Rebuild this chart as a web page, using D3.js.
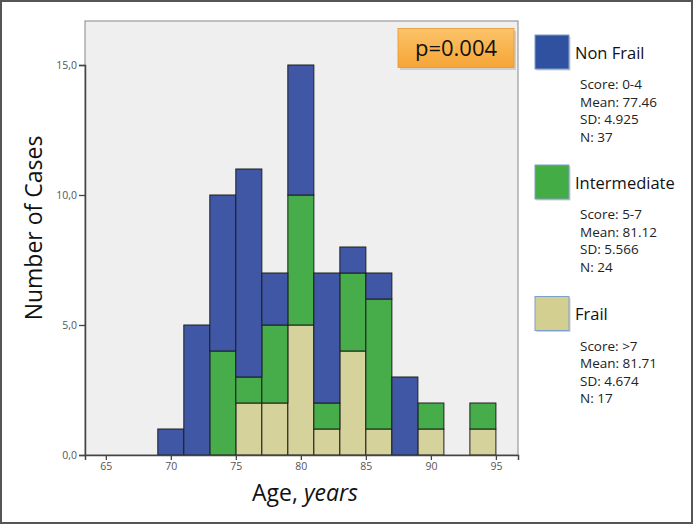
<!DOCTYPE html>
<html><head><meta charset="utf-8">
<script src="https://cdn.jsdelivr.net/npm/d3@7"></script>
<style>html,body{margin:0;padding:0;background:#fff}svg{display:block}</style>
</head><body>
<svg id="chart" width="693" height="524"></svg>
<script>
// ---- data ----
const binStarts = [69, 71, 73, 75, 77, 79, 81, 83, 85, 87, 89, 91, 93];
const binWidth = 2;
const frail        = [0, 0, 0, 2, 2, 5, 1, 4, 1, 0, 1, 0, 1];
const intermediate = [0, 0, 4, 1, 3, 5, 1, 3, 5, 0, 1, 0, 1];
const nonFrail     = [1, 5, 6, 8, 2, 5, 5, 1, 1, 3, 0, 0, 0];
const seriesKeys = ["frail", "intermediate", "nonFrail"];
const xTicks = [65, 70, 75, 80, 85, 90, 95];
const yTicks = [0, 5, 10, 15];
const legendNames = ["Non Frail", "Intermediate", "Frail"];
const legendKeys = ["nonFrail", "intermediate", "frail"];
const legendStats = [
  ["Score: 0-4", "Mean: 77.46", "SD: 4.925", "N: 37"],
  ["Score: 5-7", "Mean: 81.12", "SD: 5.566", "N: 24"],
  ["Score: >7", "Mean: 81.71", "SD: 4.674", "N: 17"]
];
const pText = "p=0.004";

const colors = {nonFrail: "#3F57A5", intermediate: "#46AD4A", frail: "#D5D29B"};
const legendColors = {nonFrail: "#2F51A0", intermediate: "#43AC44", frail: "#D3CF90"};

const rows = binStarts.map((b, i) => ({start: b, frail: frail[i], intermediate: intermediate[i], nonFrail: nonFrail[i]}));

const svg = d3.select("#chart");
const font = "'Open Sans', sans-serif";

// outer border
svg.append("rect").attr("x", 1).attr("y", 1).attr("width", 691).attr("height", 522)
  .attr("fill", "#fff").attr("stroke", "#555").attr("stroke-width", 2);

const plot = {left: 85, right: 518, top: 21, bottom: 455};
const x = d3.scaleLinear().domain([63.4, 96.7]).range([plot.left, plot.right]);
const y = d3.scaleLinear().domain([0, 15]).range([plot.bottom, 65]);

// plot background
svg.append("rect").attr("x", plot.left).attr("y", plot.top)
  .attr("width", plot.right - plot.left).attr("height", plot.bottom - plot.top)
  .attr("fill", "#EFEFEF").attr("stroke", "#999").attr("stroke-width", 1.2);

// bars
const stack = d3.stack().keys(seriesKeys)(rows);
svg.append("g").selectAll("g").data(stack).join("g")
  .attr("fill", d => colors[d.key])
  .selectAll("rect").data(d => d.filter(s => s[1] - s[0] > 0)).join("rect")
  .attr("x", d => x(d.data.start))
  .attr("width", d => x(d.data.start + binWidth) - x(d.data.start))
  .attr("y", d => y(d[1]))
  .attr("height", d => y(d[0]) - y(d[1]))
  .attr("stroke", "#1f1f1f").attr("stroke-width", 1);

// axes
const yAxis = svg.append("g").attr("transform", `translate(${plot.left},0)`)
  .call(d3.axisLeft(y).tickValues(yTicks).tickSize(6).tickPadding(2)
    .tickFormat(d => d3.format(".1f")(d).replace(".", ",")));
const xAxis = svg.append("g").attr("transform", `translate(0,${plot.bottom})`)
  .call(d3.axisBottom(x).tickValues(xTicks).tickSize(5).tickPadding(3));
[yAxis, xAxis].forEach(a => {
  a.select(".domain").attr("stroke", "#444").attr("stroke-width", 1.5);
  a.selectAll(".tick line").attr("stroke", "#444").attr("stroke-width", 1.3);
  a.selectAll(".tick text").attr("fill", "#555").style("font-family", font).style("font-size", "10.5px");
});

// axis titles
svg.append("text").attr("transform", "translate(42,228) rotate(-90)")
  .attr("text-anchor", "middle").style("font-family", font).style("font-size", "23px")
  .attr("fill", "#111").text("Number of Cases");
const xt = svg.append("text").attr("x", 305).attr("y", 501).attr("text-anchor", "middle")
  .style("font-family", font).style("font-size", "23px").attr("fill", "#111");
xt.append("tspan").text("Age, ");
xt.append("tspan").style("font-style", "italic").text("years");

// p-value box
const defs = svg.append("defs");
const g1 = defs.append("linearGradient").attr("id", "pgrad").attr("x1", 0).attr("y1", 0).attr("x2", 0).attr("y2", 1);
g1.append("stop").attr("offset", "0%").attr("stop-color", "#FCC36A");
g1.append("stop").attr("offset", "100%").attr("stop-color", "#F6A536");
svg.append("rect").attr("x", 400).attr("y", 31).attr("width", 116).attr("height", 39).attr("fill", "#bbb").attr("opacity", 0.6);
svg.append("rect").attr("x", 398).attr("y", 28.5).attr("width", 116).attr("height", 39)
  .attr("fill", "url(#pgrad)").attr("stroke", "#E8962E").attr("stroke-width", 0.8);
svg.append("text").attr("x", 456).attr("y", 56).attr("text-anchor", "middle")
  .style("font-family", font).style("font-size", "22px").attr("fill", "#111").text(pText);

// legend
const legTops = [35, 165, 296.5];
legendKeys.forEach((k, i) => {
  const t = legTops[i];
  svg.append("rect").attr("x", 536.5).attr("y", t + 1.5).attr("width", 34).attr("height", 34)
    .attr("fill", "#999").attr("opacity", 0.45);
  svg.append("rect").attr("x", 535).attr("y", t).attr("width", 34).attr("height", 34)
    .attr("fill", legendColors[k]).attr("stroke", "#7fa0c8").attr("stroke-width", 1);
  svg.append("text").attr("x", 575).attr("y", t + 23.5).style("font-family", font)
    .style("font-size", "16.5px").attr("fill", "#111").text(legendNames[i]);
  legendStats[i].forEach((s, j) => {
    svg.append("text").attr("x", 580).attr("y", t + 54 + j * 17.6).style("font-family", font)
      .style("font-size", "13.5px").attr("fill", "#222").text(s);
  });
});
</script>
</body></html>
